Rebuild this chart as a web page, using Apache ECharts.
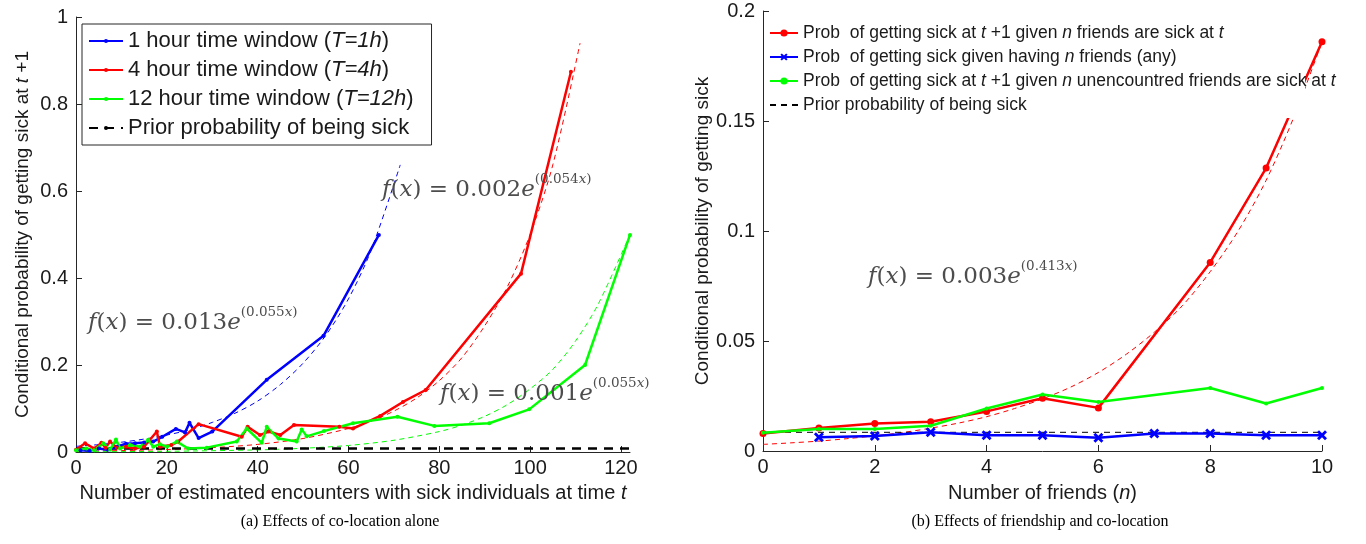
<!DOCTYPE html>
<html>
<head>
<meta charset="utf-8">
<script src="https://cdn.jsdelivr.net/npm/echarts@6/dist/echarts.min.js"></script>
<style>
html,body{margin:0;padding:0;background:#fff;}
#chart{width:1366px;height:544px;}
</style>
</head>
<body>
<div id="chart"></div>
<script>
// ---------- Panel (a): co-location alone ----------
const encT1  = [1, 3, 5, 7, 9, 11, 13, 15, 17, 19, 22, 24, 25, 27, 30, 42, 54.5, 66.7];
const probT1 = [0.004, 0.003, 0.008, 0.005, 0.012, 0.019, 0.02, 0.022, 0.024, 0.035, 0.053, 0.045, 0.067, 0.032, 0.047, 0.166, 0.267, 0.499];

const encT4  = [0, 2, 4, 5.6, 6.5, 7.5, 9, 11, 13, 15, 17.8, 18.5, 21, 22.5, 27, 36.5, 37.8, 40.5, 42.4, 45, 48, 58, 61, 67, 72, 77, 98, 109];
const probT4 = [0.005, 0.02, 0.008, 0.021, 0.01, 0.024, 0.01, 0.012, 0.008, 0.012, 0.047, 0.012, 0.016, 0.024, 0.064, 0.035, 0.058, 0.039, 0.047, 0.039, 0.062, 0.058, 0.054, 0.083, 0.115, 0.1425, 0.41, 0.874];

const encT12  = [0, 2.3, 4, 6, 7.5, 8.8, 9.7, 11.9, 14.1, 15.9, 17, 18.5, 20, 22.2, 24.7, 28.8, 35.4, 37.6, 40.9, 42, 44.6, 48.6, 49.7, 50.8, 54.6, 61, 70.8, 78.9, 91, 99.8, 112.1, 122];
const probT12 = [0.004, 0.008, 0.004, 0.02, 0.005, 0.029, 0.008, 0.016, 0.012, 0.028, 0.012, 0.018, 0.012, 0.024, 0.008, 0.01, 0.024, 0.054, 0.021, 0.058, 0.031, 0.024, 0.052, 0.036, 0.048, 0.066, 0.081, 0.06, 0.066, 0.098, 0.2, 0.499];

// fitted curves (dashed)
const fitT1x  = [0, 5, 10, 15, 20, 25, 30, 35, 40, 45, 50, 55, 60, 65, 71.4];
const fitT1y  = [0.013, 0.017, 0.0225, 0.0297, 0.039, 0.051, 0.068, 0.089, 0.117, 0.155, 0.204, 0.268, 0.352, 0.464, 0.66];
const fitT4x  = [0, 10, 20, 30, 40, 50, 60, 65, 70, 75, 80, 85, 90, 95, 100, 105, 111];
const fitT4y  = [0.0019, 0.0033, 0.0057, 0.010, 0.0175, 0.031, 0.054, 0.071, 0.094, 0.124, 0.164, 0.217, 0.29, 0.38, 0.50, 0.66, 0.94];
const fitT12x = [0, 20, 40, 50, 60, 70, 80, 85, 90, 95, 100, 105, 110, 115, 122];
const fitT12y = [0.0005, 0.0016, 0.0049, 0.0086, 0.015, 0.027, 0.047, 0.062, 0.082, 0.109, 0.145, 0.19, 0.255, 0.34, 0.50];

const priorAx = [0, 122];
const priorAy = [0.008, 0.008];

// ---------- Panel (b): friendship and co-location ----------
const friendsN   = [0, 1, 2, 3, 4, 5, 6, 8, 9, 10];
const probSickN  = [0.008, 0.0105, 0.0125, 0.0133, 0.018, 0.024, 0.0196, 0.0857, 0.1286, 0.186];
const probUnencN = [0.0083, 0.010, 0.010, 0.0115, 0.0193, 0.0257, 0.0223, 0.0286, 0.0216, 0.0286];
const friendsAnyN = [1, 2, 3, 4, 5, 6, 7, 8, 9, 10];
const probAnyN    = [0.0062, 0.0068, 0.0085, 0.0072, 0.0072, 0.006, 0.008, 0.008, 0.0072, 0.0072];
const fitNx = [0, 0.5, 1, 1.5, 2, 2.5, 3, 3.5, 4, 4.5, 5, 5.5, 6, 6.5, 7, 7.5, 8, 8.5, 9, 9.5, 10];
const fitNy = [0.003, 0.0037, 0.0045, 0.0056, 0.0069, 0.0084, 0.0104, 0.0127, 0.0156, 0.0193, 0.0237, 0.029, 0.0357, 0.044, 0.054, 0.066, 0.0815, 0.10, 0.123, 0.152, 0.186];
const priorBx = [0, 10];
const priorBy = [0.0085, 0.0085];

const ticksA = {xMin: 0, xMax: 122, xStep: 20, yMin: 0, yMax: 1, yStep: 0.2};
const ticksB = {xMin: 0, xMax: 10, xStep: 2, yMin: 0, yMax: 0.2, yStep: 0.05};

const zip = (xs, ys) => xs.map((x, i) => [x, ys[i]]);

const SANS = 'Liberation Sans, Arial, Helvetica, sans-serif';
const SERIF = 'DejaVu Serif, Liberation Serif, serif';
const TXT = '#1a1a1a';
const BLUE = '#0000ff', RED = '#ff0000', GREEN = '#00ff00';
const XSYM = 'path://M0,2 L2,0 L5,3 L8,0 L10,2 L7,5 L10,8 L8,10 L5,7 L2,10 L0,8 L3,5 Z';

const namesA = ['1 hour time window (T=1h)', '4 hour time window (T=4h)', '12 hour time window (T=12h)', 'Prior probability of being sick'];
const labelsA = {
  '1 hour time window (T=1h)': '1 hour time window ({i|T=1h})',
  '4 hour time window (T=4h)': '4 hour time window ({i|T=4h})',
  '12 hour time window (T=12h)': '12 hour time window ({i|T=12h})',
  'Prior probability of being sick': 'Prior probability of being sick'
};
const namesB = ['Prob  of getting sick at t +1 given n friends are sick at t',
                'Prob  of getting sick given having n friends (any)',
                'Prob  of getting sick at t +1 given n unencountred friends are sick at t',
                'Prior probability of being sick '];
const labelsB = {};
labelsB[namesB[0]] = 'Prob  of getting sick at {i|t} +1 given {i|n} friends are sick at {i|t}';
labelsB[namesB[1]] = 'Prob  of getting sick given having {i|n} friends (any)';
labelsB[namesB[2]] = 'Prob  of getting sick at {i|t} +1 given {i|n} unencountred friends are sick at {i|t}';
labelsB[namesB[3]] = 'Prior probability of being sick';

function axisCommon() {
  return {
    axisLine: {show: true, onZero: false, lineStyle: {color: '#262626', width: 1}},
    axisTick: {show: true, inside: true, length: 6, lineStyle: {color: '#262626'}},
    splitLine: {show: false}
  };
}
function nameStyle(fs) {
  return {fontSize: fs, fontFamily: SANS, color: TXT,
          rich: {i: {fontSize: fs, fontFamily: SANS, color: TXT, fontStyle: 'italic'}}};
}

function formula(x, y, coef, expo) {
  const fs = 23, sfs = 13.5, col = '#4d4d4d';
  const base = {fontSize: fs, fontFamily: SERIF, fill: col, lineHeight: 30, verticalAlign: 'bottom'};
  const it = Object.assign({}, base, {fontStyle: 'italic'});
  const sup = {fontSize: sfs, fontFamily: SERIF, fill: col, lineHeight: 16, verticalAlign: 'top'};
  const sit = Object.assign({}, sup, {fontStyle: 'italic'});
  return {
    type: 'text', x: x, y: y, z: 10,
    style: {
      text: '{it|f}{rm|(}{it|x}{rm|) = ' + coef + '}{it|e}{sup|(' + expo + '}{sit|x}{sup|)}',
      rich: {it: it, rm: base, sup: sup, sit: sit},
      fill: col, verticalAlign: 'top'
    }
  };
}

const option = {
  animation: false,
  backgroundColor: '#fff',
  grid: [
    {left: 76, top: 17, width: 554, height: 435},
    {left: 763, top: 11, width: 559, height: 440}
  ],
  xAxis: [
    Object.assign(axisCommon(), {
      gridIndex: 0, type: 'value', min: ticksA.xMin, max: ticksA.xMax, interval: ticksA.xStep,
      axisLabel: {fontSize: 20, fontFamily: SANS, color: TXT, margin: 6, showMaxLabel: false},
      name: 'Number of estimated encounters with sick individuals at time {i|t}',
      nameLocation: 'middle', nameGap: 31, nameTextStyle: nameStyle(20)
    }),
    Object.assign(axisCommon(), {
      gridIndex: 1, type: 'value', min: ticksB.xMin, max: ticksB.xMax, interval: ticksB.xStep,
      axisLabel: {fontSize: 20, fontFamily: SANS, color: TXT, margin: 6},
      name: 'Number of friends ({i|n})',
      nameLocation: 'middle', nameGap: 32, nameTextStyle: nameStyle(20)
    })
  ],
  yAxis: [
    Object.assign(axisCommon(), {
      gridIndex: 0, type: 'value', min: ticksA.yMin, max: ticksA.yMax, interval: ticksA.yStep,
      axisLabel: {fontSize: 20, fontFamily: SANS, color: TXT, margin: 8},
      name: 'Conditional probability of getting sick at {i|t} +1',
      nameLocation: 'middle', nameRotate: 90, nameGap: 44, nameTextStyle: nameStyle(19)
    }),
    Object.assign(axisCommon(), {
      gridIndex: 1, type: 'value', min: ticksB.yMin, max: ticksB.yMax, interval: ticksB.yStep,
      axisLabel: {fontSize: 20, fontFamily: SANS, color: TXT, margin: 8},
      name: 'Conditional probability of getting sick',
      nameLocation: 'middle', nameRotate: 90, nameGap: 50, nameTextStyle: nameStyle(19)
    })
  ],
  legend: [
    {
      data: namesA, orient: 'vertical', left: 82, top: 24,
      itemWidth: 34, itemHeight: 5, itemGap: 7,
      padding: [6, 18, 6, 6],
      borderColor: '#262626', borderWidth: 1, backgroundColor: '#fff',
      formatter: n => labelsA[n],
      textStyle: {fontSize: 22, fontFamily: SANS, color: TXT,
        rich: {i: {fontSize: 22, fontFamily: SANS, color: TXT, fontStyle: 'italic'}}},
      selectedMode: false, z: 5
    },
    {
      data: [namesB[0], namesB[1], namesB[2], {name: namesB[3], itemStyle: {opacity: 0}}],
      orient: 'vertical', left: 765, top: 19,
      itemWidth: 28, itemHeight: 9, itemGap: 6,
      padding: [5, 6, 5, 4],
      formatter: n => labelsB[n],
      textStyle: {fontSize: 17.5, fontFamily: SANS, color: TXT,
        rich: {i: {fontSize: 17.5, fontFamily: SANS, color: TXT, fontStyle: 'italic'}}},
      selectedMode: false, z: 6
    }
  ],
  series: [
    // panel a
    {type: 'line', name: 'fitT1', xAxisIndex: 0, yAxisIndex: 0, data: zip(fitT1x, fitT1y), smooth: 0.3,
     symbol: 'none', lineStyle: {color: BLUE, width: 1, type: [5, 4]}, z: 2},
    {type: 'line', name: 'fitT4', xAxisIndex: 0, yAxisIndex: 0, data: zip(fitT4x, fitT4y), smooth: 0.3,
     symbol: 'none', lineStyle: {color: RED, width: 1, type: [5, 4]}, z: 2},
    {type: 'line', name: 'fitT12', xAxisIndex: 0, yAxisIndex: 0, data: zip(fitT12x, fitT12y), smooth: 0.3,
     symbol: 'none', lineStyle: {color: GREEN, width: 1, type: [5, 4]}, z: 2},
    {type: 'line', name: namesA[3], xAxisIndex: 0, yAxisIndex: 0, data: zip(priorAx, priorAy),
     symbol: 'none', color: '#000', lineStyle: {color: '#000', width: 2.5, type: [9, 7]}, z: 3},
    {type: 'line', name: namesA[0], xAxisIndex: 0, yAxisIndex: 0, data: zip(encT1, probT1),
     symbol: 'circle', symbolSize: 4, color: BLUE, itemStyle: {color: BLUE},
     lineStyle: {color: BLUE, width: 2.5}, z: 4},
    {type: 'line', name: namesA[1], xAxisIndex: 0, yAxisIndex: 0, data: zip(encT4, probT4),
     symbol: 'circle', symbolSize: 4, color: RED, itemStyle: {color: RED},
     lineStyle: {color: RED, width: 2.5}, z: 4},
    {type: 'line', name: namesA[2], xAxisIndex: 0, yAxisIndex: 0, data: zip(encT12, probT12),
     symbol: 'circle', symbolSize: 4, color: GREEN, itemStyle: {color: GREEN},
     lineStyle: {color: GREEN, width: 2.5}, z: 4},
    // panel b
    {type: 'line', name: 'fitN', xAxisIndex: 1, yAxisIndex: 1, data: zip(fitNx, fitNy), smooth: 0.3,
     symbol: 'none', lineStyle: {color: RED, width: 1, type: [5, 4]}, z: 2},
    {type: 'line', name: namesB[3], xAxisIndex: 1, yAxisIndex: 1, data: zip(priorBx, priorBy),
     symbol: 'none', color: '#000', lineStyle: {color: '#000', width: 1, type: [6, 5]}, z: 2},
    {type: 'line', name: namesB[0], xAxisIndex: 1, yAxisIndex: 1, data: zip(friendsN, probSickN),
     symbol: 'circle', symbolSize: 7, color: RED, itemStyle: {color: RED},
     lineStyle: {color: RED, width: 2.5}, z: 3},
    {type: 'line', name: namesB[1], xAxisIndex: 1, yAxisIndex: 1, data: zip(friendsAnyN, probAnyN),
     symbol: XSYM, symbolSize: 10, color: BLUE, itemStyle: {color: BLUE},
     lineStyle: {color: BLUE, width: 2.5}, z: 3},
    {type: 'line', name: namesB[2], xAxisIndex: 1, yAxisIndex: 1, data: zip(friendsN, probUnencN),
     symbol: 'circle', symbolSize: 4, color: GREEN, itemStyle: {color: GREEN},
     lineStyle: {color: GREEN, width: 2.5}, z: 4}
  ],
  graphic: {elements: [
    // white box behind the panel (b) legend (narrower than its text, as in the original)
    {type: 'rect', shape: {x: 766, y: 14, width: 539, height: 104}, style: {fill: '#fff'}, z: 5},
    formula(88, 305, '0.013', '0.055'),
    formula(382, 172, '0.002', '0.054'),
    formula(440, 376, '0.001', '0.055'),
    formula(868, 259, '0.003', '0.413'),
    {type: 'text', x: 340, y: 522, z: 10,
     style: {text: '(a) Effects of co-location alone', fontSize: 16, fontFamily: 'Liberation Serif, Times New Roman, serif',
             fill: '#000', align: 'center', verticalAlign: 'middle'}},
    {type: 'text', x: 1040, y: 522, z: 10,
     style: {text: '(b) Effects of friendship and co-location', fontSize: 16, fontFamily: 'Liberation Serif, Times New Roman, serif',
             fill: '#000', align: 'center', verticalAlign: 'middle'}}
  ]}
};

const chart = echarts.init(document.getElementById('chart'), null, {renderer: 'canvas'});
chart.setOption(option);
</script>
</body>
</html>
